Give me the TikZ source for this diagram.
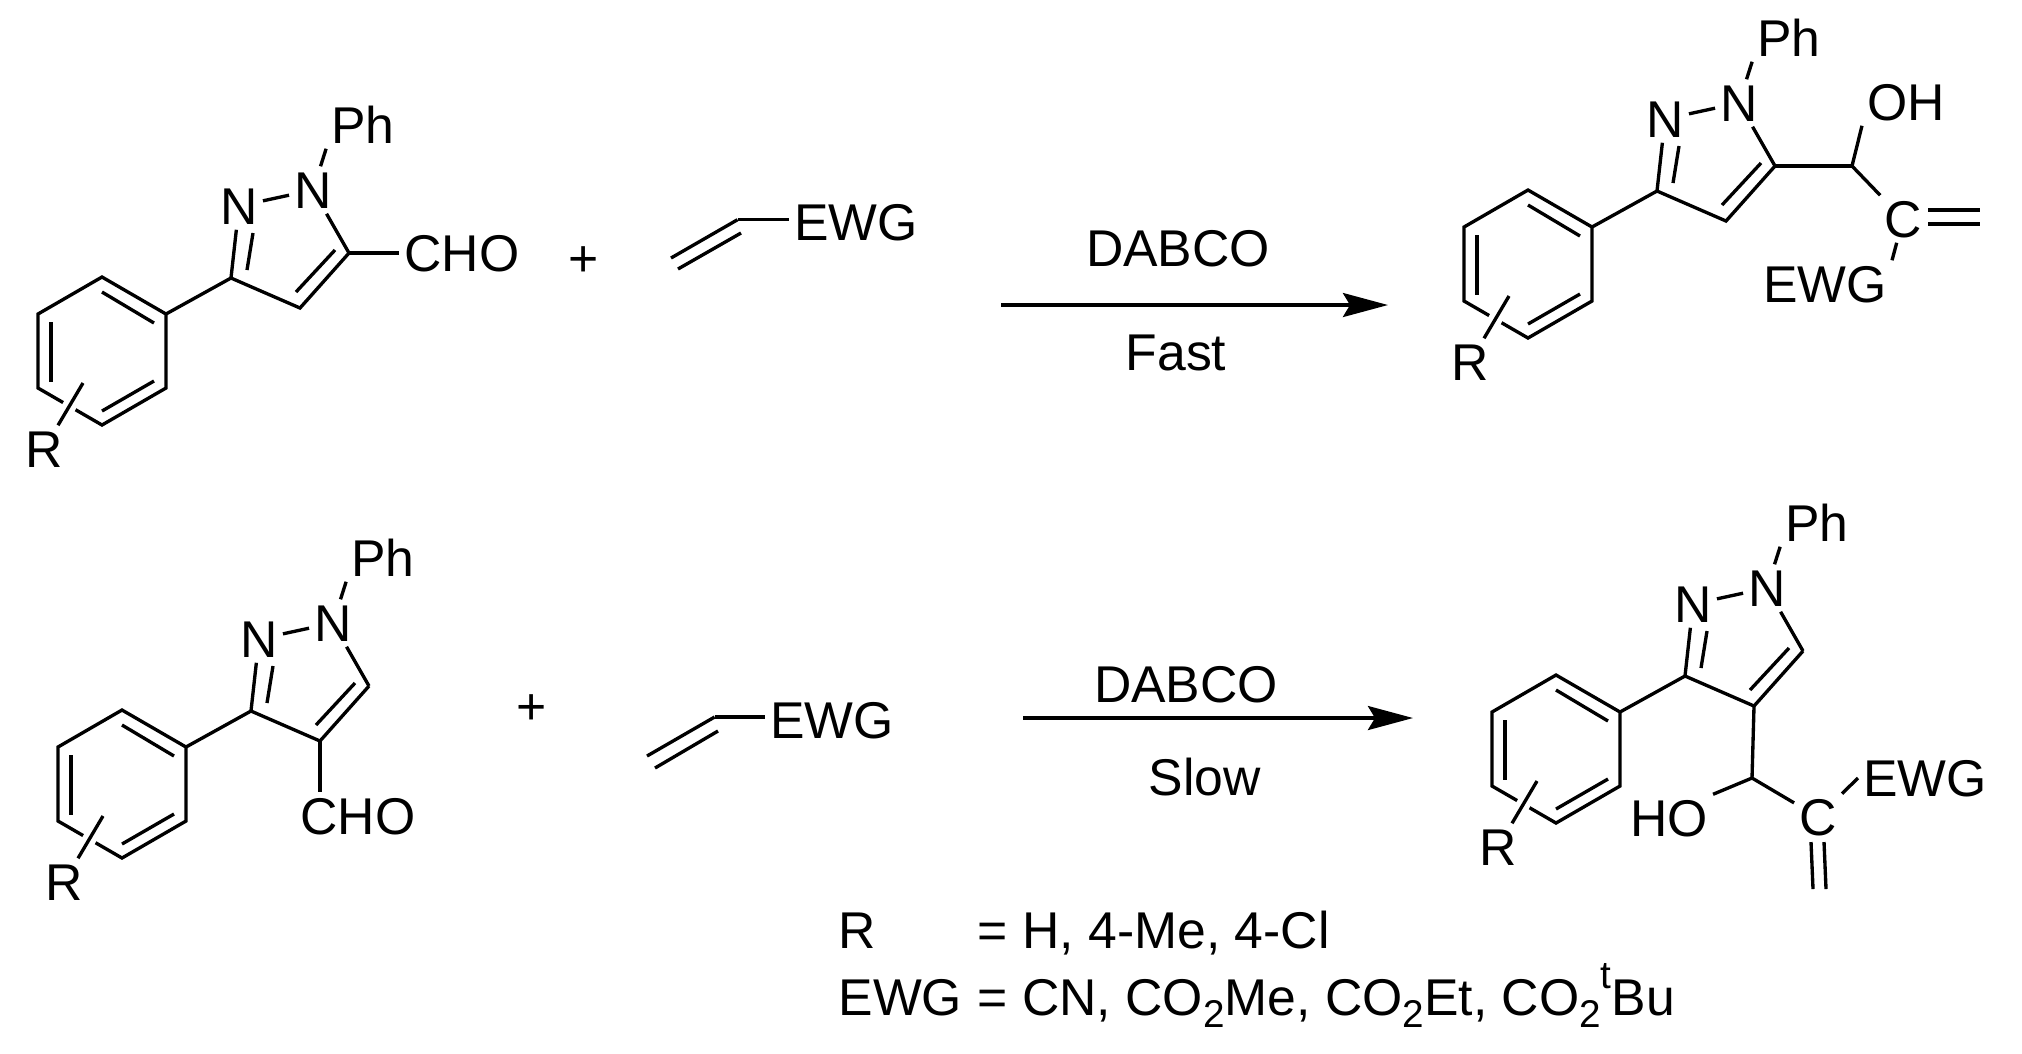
\documentclass[tikz,border=0pt]{standalone}
\usepackage{fontspec}
\setmainfont{Liberation Sans}
\usetikzlibrary{arrows.meta}
\newcommand{\lowtwo}{\raisebox{-3.6pt}{\fontsize{11}{11}\selectfont 2}}
\newcommand{\hight}{\raisebox{7.5pt}{\fontsize{11}{11}\selectfont t}}
\tikzset{
  every node/.style={font=\fontsize{14.7}{17}\selectfont},
  atom/.style={inner sep=1.3pt, text height=10.5pt, text depth=0pt},
  plain/.style={inner sep=0pt, anchor=base west},
  bond/.style={line width=0.95pt},
  rxn/.style={line width=1.1pt, -{Stealth[length=12.8pt, width=6.8pt, inset=2pt]}},
  pics/arylpz/.style={code={
    \coordinate (-a) at (0,0);
    \coordinate (-b) at (64,37);
    \coordinate (-c) at (64,111);
    \coordinate (-d) at (0,148);
    \coordinate (-e) at (-64,111);
    \coordinate (-f) at (-64,37);
    \coordinate (-C3) at (129,1);
    \coordinate (-C4) at (198,31);
    \coordinate (-C5) at (247,-24);
    \coordinate (-rb) at (-19,106);
    \node[atom] (-N1) at (211,-87) {N};
    \node[atom] (-N2) at (137,-71) {N};
    \node[atom] (-Ph) at (261,-152) {Ph};
    \node[atom] (-R) at (-58,172) {R};
    \draw[bond] (-a)--(-b)--(-c)--(-d)--(-e)--(-f)--cycle;
    \draw[bond] (0,15)--(52,46);
    \draw[bond] (0,134)--(52,104);
    \draw[bond] (-51,45)--(-51,105);
    \draw[bond] (-b)--(-C3);
    \draw[bond] (-C3)--(-C4)--(-C5);
    \draw[bond] (194,15)--(233,-27);
    \draw[bond] (-C5)--(-N1);
    \draw[bond] (-N1)--(-N2);
    \draw[bond] (-C3)--(-N2);
    \draw[bond] (145,-7)--(151,-44);
    \draw[bond] (-N1)--(-Ph.south west);
    \draw[bond, preaction={draw=white, line width=4pt}] (-R)--(-rb);
  }}
}
\begin{document}
\begin{tikzpicture}[x=0.01cm, y=-0.01cm]
\useasboundingbox (0,0) rectangle (2022,1053);
\pic (ma) at (102,277) {arylpz};
\node[atom] (ma-CHO) at (462,253) {CHO};
\draw[bond] (ma-C5)--(ma-CHO);
\node[atom] (plusa) at (584,258) {+};
\coordinate (va1) at (737.5,219.7);
\coordinate (va2) at (671,258);
\coordinate (va3) at (741,233);
\coordinate (va4) at (678,269);
\node[atom] (ewga) at (856,222) {EWG};
\draw[bond] (va1)--(va1 -| ewga.west);
\draw[bond] (va1)--(va2);
\draw[bond] (va3)--(va4);
\coordinate (ra1) at (1001,305);
\coordinate (ra2) at (1388,305);
\draw[rxn] (ra1)--(ra2);
\node[atom] (daba) at (1178,248.5) {DABCO};
\node[atom] (fast) at (1176,352) {Fast};
\pic (mc) at (1528,190) {arylpz};
\coordinate (mc-CH) at (1852,166);
\node[atom] (mc-OH) at (1906,102) {OH};
\node[atom] (mc-C) at (1903,219) {C};
\node[atom] (mc-EWG) at (1825,284) {EWG};
\coordinate (mc-v1) at (1928,210);
\coordinate (mc-v2) at (1980,210);
\coordinate (mc-v3) at (1928,224);
\coordinate (mc-v4) at (1980,224);
\draw[bond] (mc-C5)--(mc-CH);
\draw[bond] (mc-CH)--(mc-OH.south west);
\draw[bond] (mc-CH)--(mc-C);
\draw[bond] (mc-C)--(mc-EWG.north east);
\draw[bond] (mc-v1)--(mc-v2);
\draw[bond] (mc-v3)--(mc-v4);
\pic (mb) at (122,710) {arylpz};
\node[atom] (mb-CHO) at (358,816) {CHO};
\draw[bond] (mb-C4)--(mb-C4 |- mb-CHO.north);
\node[atom] (plusb) at (532,706) {+};
\coordinate (vb1) at (714.6,717);
\coordinate (vb2) at (647,756);
\coordinate (vb3) at (718,731);
\coordinate (vb4) at (655,768);
\node[atom] (ewgb) at (832,720) {EWG};
\draw[bond] (vb1)--(vb1 -| ewgb.west);
\draw[bond] (vb1)--(vb2);
\draw[bond] (vb3)--(vb4);
\coordinate (rb1) at (1023,718);
\coordinate (rb2) at (1413,718);
\draw[rxn] (rb1)--(rb2);
\node[atom] (dabb) at (1186,684) {DABCO};
\node[atom] (slow) at (1205,777) {Slow};
\pic (md) at (1556,675) {arylpz};
\coordinate (md-CH) at (1752,778);
\node[atom] (md-HO) at (1669,818) {HO};
\node[atom] (md-C) at (1818,817) {C};
\node[atom] (md-EWG) at (1925,778) {EWG};
\coordinate (md-v1) at (1811,842);
\coordinate (md-v2) at (1813,889);
\coordinate (md-v3) at (1824,842);
\coordinate (md-v4) at (1826,889);
\draw[bond] (md-C4)--(md-CH);
\draw[bond] (md-CH)--(md-HO.north east);
\draw[bond] (md-CH)--(md-C);
\draw[bond] (md-C)--(md-EWG.west);
\draw[bond] (md-v1)--(md-v2);
\draw[bond] (md-v3)--(md-v4);
\node[plain] (rkey) at (838,948) {R};
\node[plain] (rval) at (977,948) {= H, 4-Me, 4-Cl};
\node[plain] (ewgkey) at (838,1015) {EWG};
\node[plain] (ewgval) at (977,1015) {= CN, CO\lowtwo Me, CO\lowtwo Et, CO\lowtwo\hight Bu};
\end{tikzpicture}
\end{document}
